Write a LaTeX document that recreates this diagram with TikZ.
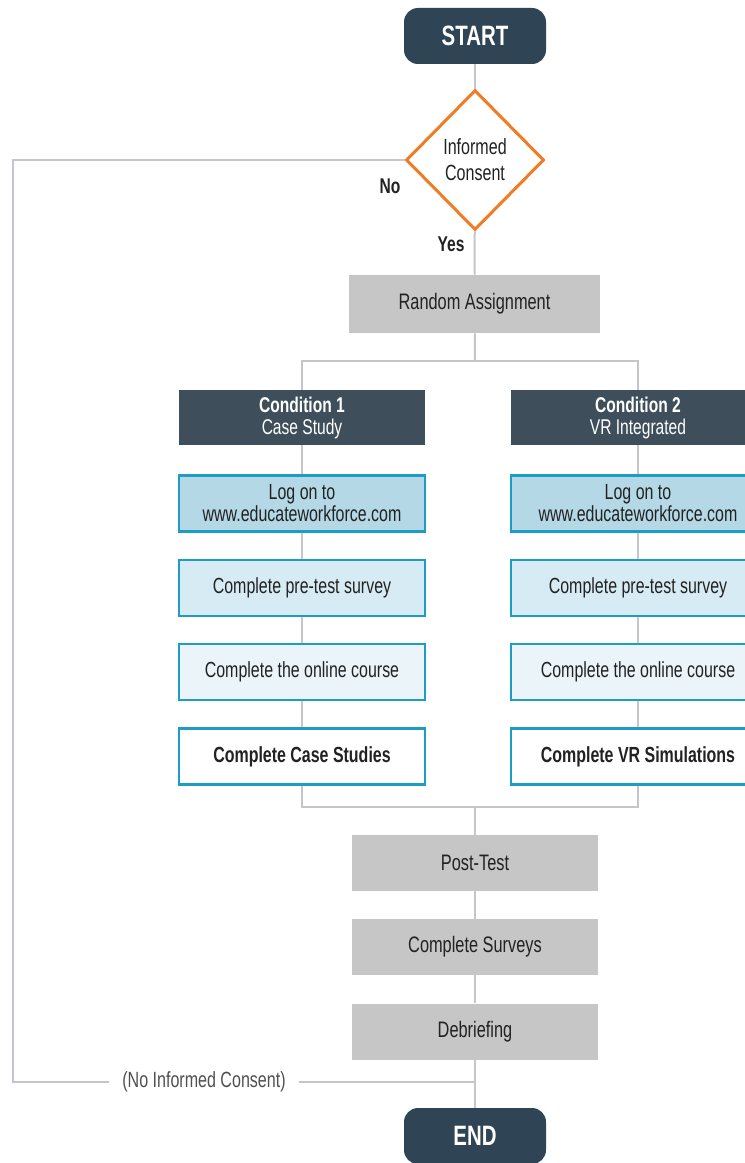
\documentclass[tikz,border=0pt]{standalone}
\usepackage{fontspec}
\setmainfont{Liberation Sans}[FakeStretch=0.73]
\usetikzlibrary{shapes.geometric}
\definecolor{linegray}{HTML}{C5C6CB}
\definecolor{orng}{HTML}{F07D26}
\definecolor{termdark}{HTML}{2F4555}
\definecolor{conddark}{HTML}{3E4F5B}
\definecolor{boxgray}{HTML}{C6C6C6}
\definecolor{teal}{HTML}{1E9DC4}
\definecolor{fillA}{HTML}{B4D8E6}
\definecolor{fillB}{HTML}{D6EBF3}
\definecolor{fillC}{HTML}{EAF4F9}
\definecolor{txt}{HTML}{222222}
\definecolor{txtgray}{HTML}{505050}
\begin{document}
\begin{tikzpicture}[x=0.75pt,y=-0.75pt,
  conn/.style={draw=linegray,line width=1.5pt},
  term/.style={rectangle,rounded corners=10.5pt,fill=termdark,text=white,
    minimum width=106.5pt,minimum height=42pt,inner sep=0pt,
    font=\bfseries\fontsize{21}{22}\selectfont},
  decision/.style={diamond,draw=orng,line width=2.25pt,fill=white,
    minimum width=103.5pt,minimum height=105pt,inner sep=0pt,align=center,
    text=txt,font=\fontsize{16.5}{19.5}\selectfont},
  graybox/.style={rectangle,fill=boxgray,minimum width=184.5pt,minimum height=42pt,
    inner sep=0pt,text=txt,font=\fontsize{16.8}{16.5}\selectfont},
  condbox/.style={rectangle,fill=conddark,text=white,minimum height=41.25pt,
    inner sep=0pt,align=center,font=\fontsize{16}{16.5}\selectfont},
  stepbox/.style={rectangle,draw=teal,line width=1.9pt,minimum height=42pt,
    inner sep=0pt,align=center,text=txt,font=\fontsize{16.4}{16.5}\selectfont},
  lbl/.style={text=txt,font=\bfseries\fontsize{16}{16}\selectfont,inner sep=0pt},
  nolbl/.style={text=txtgray,font=\fontsize{16.5}{16}\selectfont,inner xsep=10pt,inner ysep=0pt}
]
\useasboundingbox (0,0) rectangle (745,1163);
\clip (0,0) rectangle (745,1163);
\fill[white] (0,0) rectangle (745,1163);

% nodes
\node[term] (start) at (475,36) {START};
\node[decision] (ic) at (475,160) {Informed\\Consent};
\node[lbl] (no) at (390,186) {No};
\node[lbl] (yes) at (451,244) {Yes};
\node[graybox,minimum width=188.25pt,minimum height=43.5pt] (ra) at (474.5,304) {Random Assignment};

\node[condbox,minimum width=184.5pt] (c1) at (302,417.5) {\textbf{Condition 1}\\Case Study};
\node[condbox,minimum width=190.5pt] (c2) at (638,417.5) {\textbf{Condition 2}\\VR Integrated};

\node[stepbox,fill=fillA,minimum width=184.5pt] (l1) at (302,503.5) {Log on to\\www.educateworkforce.com};
\node[stepbox,fill=fillA,minimum width=190.5pt] (l2) at (638,503.5) {Log on to\\www.educateworkforce.com};
\node[stepbox,fill=fillB,minimum width=184.5pt] (p1) at (302,588) {Complete pre-test survey};
\node[stepbox,fill=fillB,minimum width=190.5pt] (p2) at (638,588) {Complete pre-test survey};
\node[stepbox,fill=fillC,minimum width=184.5pt] (o1) at (302,672) {Complete the online course};
\node[stepbox,fill=fillC,minimum width=190.5pt] (o2) at (638,672) {Complete the online course};
\node[stepbox,fill=white,minimum width=184.5pt,font=\bfseries\fontsize{16.4}{16.5}\selectfont] (f1) at (302,756.5) {Complete Case Studies};
\node[stepbox,fill=white,minimum width=190.5pt,font=\bfseries\fontsize{16.4}{16.5}\selectfont] (f2) at (638,756.5) {Complete VR Simulations};

\node[graybox] (pt) at (475,863) {Post-Test};
\node[graybox] (cs) at (475,947) {Complete Surveys};
\node[graybox] (db) at (475,1031.5) {Debriefing};
\node[term] (end) at (475,1136) {END};

\node[nolbl] (nic) at (204,1082) {(No Informed Consent)};

% coordinates
\coordinate (split) at (475,361);
\coordinate (join) at (475,807);
\coordinate (nl1) at (13,160);
\coordinate (nl2) at (13,1082);
\coordinate (nl3) at (475,1082);

% connectors
\draw[conn] (start) -- (ic);
\draw[conn] (ic) -- (ra);
\draw[conn] (ra) -- (split);
\draw[conn] (c1.north) |- (split) -| (c2.north);
\draw[conn] (c1) -- (l1);
\draw[conn] (l1) -- (p1);
\draw[conn] (p1) -- (o1);
\draw[conn] (o1) -- (f1);
\draw[conn] (c2) -- (l2);
\draw[conn] (l2) -- (p2);
\draw[conn] (p2) -- (o2);
\draw[conn] (o2) -- (f2);
\draw[conn] (f1.south) |- (join) -| (f2.south);
\draw[conn] (join) -- (pt);
\draw[conn] (pt) -- (cs);
\draw[conn] (cs) -- (db);
\draw[conn] (db) -- (end);
\draw[conn] (ic.west) -- (nl1) -- (nl2) -- (nic.west);
\draw[conn] (nic.east) -- (nl3);
\end{tikzpicture}
\end{document}
